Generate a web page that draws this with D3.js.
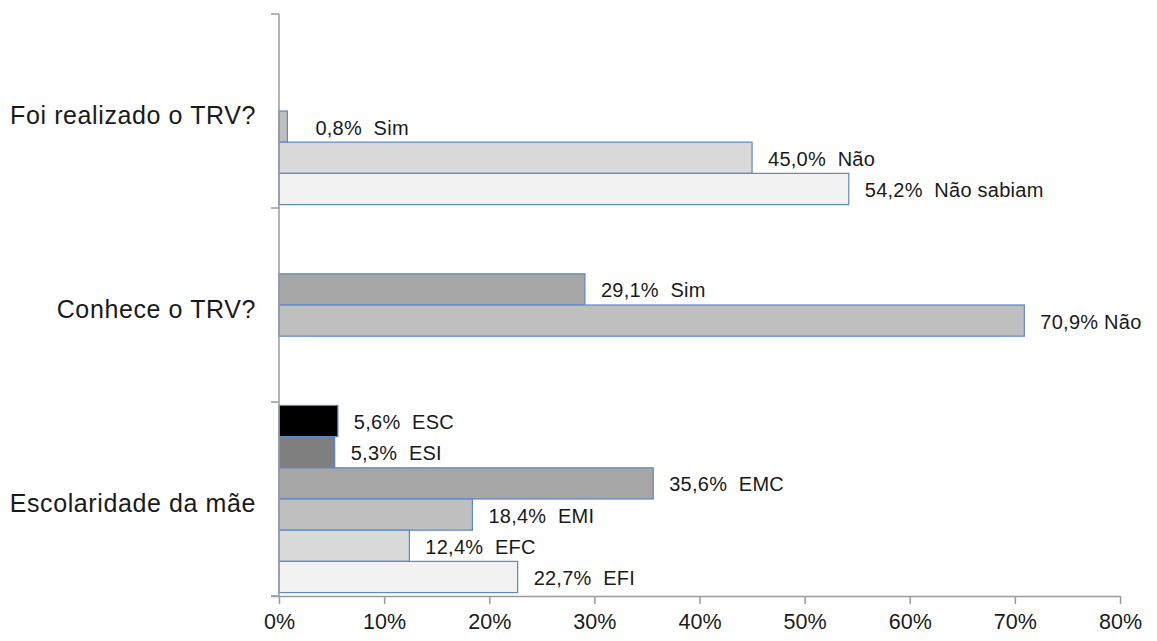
<!DOCTYPE html>
<html>
<head>
<meta charset="utf-8">
<script src="https://cdn.jsdelivr.net/npm/d3@7"></script>
<style>
  html, body { margin: 0; padding: 0; background: #fff; }
  svg { display: block; }
  text { font-family: "Liberation Sans", Arial, sans-serif; fill: #1a1a1a; }
</style>
</head>
<body>
<svg id="chart" width="1157" height="641"></svg>
<script>
// Questions shown on the vertical axis (top to bottom)
const categories = ["Foi realizado o TRV?", "Conhece o TRV?", "Escolaridade da mãe"];

// Six series; each entry is the value for the matching category (null = no bar)
const series1Values = [null, null, 5.6];
const series2Values = [null, null, 5.3];
const series3Values = [null, 29.1, 35.6];
const series4Values = [0.8, 70.9, 18.4];
const series5Values = [45.0, null, 12.4];
const series6Values = [54.2, null, 22.7];

// Text shown after each value
const series1Names = [null, null, "ESC"];
const series2Names = [null, null, "ESI"];
const series3Names = [null, "Sim", "EMC"];
const series4Names = ["Sim", "Não", "EMI"];
const series5Names = ["Não", null, "EFC"];
const series6Names = ["Não sabiam", null, "EFI"];

const seriesFills = ["#000000", "#7f7f7f", "#a6a6a6", "#bfbfbf", "#d9d9d9", "#f2f2f2"];

const xTicks = [0, 10, 20, 30, 40, 50, 60, 70, 80];

const allValues = [series1Values, series2Values, series3Values, series4Values, series5Values, series6Values];
const allNames = [series1Names, series2Names, series3Names, series4Names, series5Names, series6Names];

const fmt = v => v.toFixed(1).replace(".", ",") + "%";

const bars = [];
allValues.forEach((vals, s) => {
  vals.forEach((v, c) => {
    if (v !== null) {
      const name = allNames[s][c];
      const gap = (s === 3 && c === 1) ? " " : "  ";
      bars.push({ cat: categories[c], s, value: v, label: fmt(v) + gap + name });
    }
  });
});

const svg = d3.select("#chart");
const margin = { left: 279, right: 37, top: 14, bottom: 45 };
const W = 1157, H = 641;

const x = d3.scaleLinear().domain([0, 80]).range([margin.left, W - margin.right]);
const y = d3.scaleBand().domain(categories).range([margin.top, H - margin.bottom]).paddingInner(0).paddingOuter(0);
const ySub = d3.scaleBand().domain(d3.range(6)).range([0, y.bandwidth()]).paddingOuter(0.11).paddingInner(0);

// Bars
svg.append("g").selectAll("rect")
  .data(bars)
  .join("rect")
  .attr("x", x(0))
  .attr("y", d => y(d.cat) + ySub(d.s))
  .attr("width", d => x(d.value) - x(0))
  .attr("height", ySub.bandwidth())
  .attr("fill", d => seriesFills[d.s])
  .attr("stroke", "#5a88c8")
  .attr("stroke-width", 1.2);

// Value labels
svg.append("g").selectAll("text")
  .data(bars)
  .join("text")
  .attr("x", d => x(d.value) + (d.value < 2 ? 28 : 16))
  .attr("y", d => y(d.cat) + ySub(d.s) + ySub.bandwidth() / 2 + 1)
  .attr("dominant-baseline", "central")
  .attr("font-size", 20)
  .attr("letter-spacing", 0.25)
  .style("white-space", "pre")
  .text(d => d.label);

// X axis
const xAxis = svg.append("g")
  .attr("transform", `translate(0,${H - margin.bottom})`)
  .call(d3.axisBottom(x).tickValues(xTicks).tickSize(8).tickFormat(d => d + "%"));
xAxis.select(".domain").attr("stroke", "#9a9a9a").attr("stroke-width", 1.5)
  .attr("d", `M${margin.left - 8},0.5H${W - margin.right}`);
xAxis.selectAll(".tick line").attr("stroke", "#9a9a9a").attr("stroke-width", 1.5);
xAxis.selectAll(".tick text").attr("font-size", 21.5).attr("dy", "1.02em").attr("fill", "#1a1a1a")
  .style("font-family", "'Liberation Sans', Arial, sans-serif");

// Y axis
const yAxis = svg.append("g")
  .attr("transform", `translate(${margin.left},0)`);
yAxis.append("line")
  .attr("x1", 0).attr("x2", 0)
  .attr("y1", margin.top).attr("y2", H - margin.bottom)
  .attr("stroke", "#9a9a9a").attr("stroke-width", 1.5);
const yBounds = categories.map(c => y(c)).concat([y(categories[categories.length - 1]) + y.bandwidth()]);
yAxis.selectAll("line.tick")
  .data(yBounds)
  .join("line")
  .attr("class", "tick")
  .attr("x1", -8).attr("x2", 0)
  .attr("y1", d => d).attr("y2", d => d)
  .attr("stroke", "#9a9a9a").attr("stroke-width", 1.5);

// Category labels
yAxis.selectAll("text")
  .data(categories)
  .join("text")
  .attr("x", -23)
  .attr("y", c => y(c) + y.bandwidth() / 2 + 4)
  .attr("text-anchor", "end")
  .attr("dominant-baseline", "central")
  .attr("font-size", 25)
  .attr("letter-spacing", 0.6)
  .text(c => c);
</script>
</body>
</html>
